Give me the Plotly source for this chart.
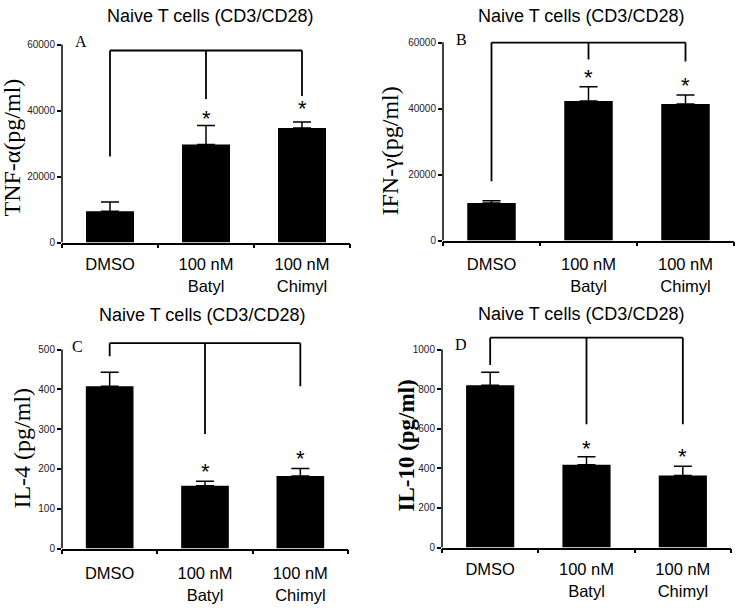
import plotly.graph_objects as go

W, H = 737, 608

categories = ["DMSO", "100 nM<br>Batyl", "100 nM<br>Chimyl"]
panel_title = "Naive T cells (CD3/CD28)"

# Panel A: TNF-alpha
tnf_mean = [9500, 29700, 34700]
tnf_err = [2800, 5800, 1800]
tnf_bracket_top = 58200
tnf_bracket_legs = [26100, 43500, 44400]
tnf_star = [None, 39300, 42500]

# Panel B: IFN-gamma
ifn_mean = [11400, 42300, 41400]
ifn_err = [700, 4300, 2700]
ifn_bracket_top = 60000
ifn_bracket_legs = [18000, 54900, 54300]
ifn_star = [None, 51300, 48900]

# Panel C: IL-4
il4_mean = [408, 158, 182]
il4_err = [35, 11, 19]
il4_bracket_top = 516
il4_bracket_legs = [483, 288, 408]
il4_star = [None, 209, 241]

# Panel D: IL-10
il10_mean = [819, 418, 364]
il10_err = [66, 40, 47]
il10_bracket_top = 1060
il10_bracket_legs = [922, 623, 623]
il10_star = [None, 531, 489]

y_titles = ["TNF-α(pg/ml)", "IFN-γ(pg/ml)", "IL-4 (pg/ml)", "<b>IL-10 (pg/ml)</b>"]
letters = ["A", "B", "C", "D"]
y_tops = [60000, 60000, 500, 1000]
y_dticks = [20000, 20000, 100, 200]

# layout geometry in pixels: (left, right, bottom(y=0), top(y=ymax))
geom = [(62, 350, 245, 45), (443, 734, 243, 43), (62, 348, 554, 353), (442, 731, 553, 353)]
title_pos = [(210, 16), (581, 16), (202, 318), (581, 317)]
ytitle_pos = [(12, 149), (390, 153), (22, 453), (407, 450)]
letter_pos = [(81, 42), (461, 40), (77, 350), (461, 348)]
xlabel_standoff = [6, 8, 9, 6]

panels = [
    (tnf_mean, tnf_err, tnf_bracket_top, tnf_bracket_legs, tnf_star),
    (ifn_mean, ifn_err, ifn_bracket_top, ifn_bracket_legs, ifn_star),
    (il4_mean, il4_err, il4_bracket_top, il4_bracket_legs, il4_star),
    (il10_mean, il10_err, il10_bracket_top, il10_bracket_legs, il10_star),
]

def px(x):
    return x / W

def py(y):
    return 1 - y / H

EXT = 1.1
fig = go.Figure()
shapes = []
annotations = []
layout = {}
for i, (mean, err, btop, blegs, stars) in enumerate(panels):
    n = i + 1
    xa = "x" if n == 1 else f"x{n}"
    ya = "y" if n == 1 else f"y{n}"
    xl, xr, yb, yt = geom[i]
    top_px = yb - (yb - yt) * EXT
    fig.add_trace(go.Bar(
        x=categories, y=mean, width=0.5,
        marker=dict(color="black", line=dict(width=0)),
        error_y=dict(type="data", symmetric=False, array=err, arrayminus=[0] * len(err),
                     color="black", thickness=1.5, width=9),
        xaxis=xa, yaxis=ya, showlegend=False, hoverinfo="skip",
    ))
    layout["xaxis" if n == 1 else f"xaxis{n}"] = dict(
        domain=[px(xl), px(xr)], anchor=ya, type="category", range=[-0.5, 2.5],
        showline=True, linecolor="black", linewidth=1.5, ticks="outside", tickson="boundaries",
        ticklen=4, tickwidth=1.5, tickcolor="black", showgrid=False, zeroline=False,
        ticklabelstandoff=xlabel_standoff[i],
        tickfont=dict(family="Liberation Sans, Arial", size=16.5, color="black"),
    )
    layout["yaxis" if n == 1 else f"yaxis{n}"] = dict(
        domain=[py(yb), py(top_px)], anchor=xa, range=[0, y_tops[i] * EXT],
        tickvals=list(range(0, y_tops[i] + 1, y_dticks[i])), tickformat="d",
        showline=False, showgrid=False, zeroline=False, ticks="outside", ticklen=4,
        tickwidth=1.5, tickcolor="black",
        tickfont=dict(family="Liberation Sans, Arial", size=10, color="#222"),
    )
    # y axis line up to top tick
    shapes.append(dict(type="line", xref=f"{xa} domain", yref=ya, x0=0, x1=0, y0=0, y1=y_tops[i],
                       line=dict(color="black", width=1.5)))
    # bracket
    line = dict(color="black", width=1.8)
    shapes.append(dict(type="line", xref=xa, yref=ya, x0=0, x1=len(categories) - 1,
                       y0=btop, y1=btop, line=line))
    for k, leg in enumerate(blegs):
        shapes.append(dict(type="line", xref=xa, yref=ya, x0=k, x1=k, y0=leg, y1=btop, line=line))
    for k, s in enumerate(stars):
        if s is not None:
            annotations.append(dict(x=k, y=s, xref=xa, yref=ya, text="*", showarrow=False,
                                    yanchor="middle", yshift=-6,
                                    font=dict(family="Liberation Sans, Arial", size=22, color="black")))
    tx, ty = title_pos[i]
    annotations.append(dict(x=px(tx), y=py(ty), xref="paper", yref="paper", text=panel_title,
                            showarrow=False, xanchor="center", yanchor="middle",
                            font=dict(family="Liberation Sans, Arial", size=18, color="black")))
    ax_, ay_ = ytitle_pos[i]
    annotations.append(dict(x=px(ax_), y=py(ay_), xref="paper", yref="paper", text=y_titles[i],
                            showarrow=False, xanchor="center", yanchor="middle", textangle=-90,
                            font=dict(family="Liberation Serif, Times New Roman", size=24 if i < 3 else 23,
                                      color="black")))
    lx, ly = letter_pos[i]
    annotations.append(dict(x=px(lx), y=py(ly), xref="paper", yref="paper", text=letters[i],
                            showarrow=False, xanchor="center", yanchor="middle",
                            font=dict(family="Liberation Serif, Times New Roman", size=16, color="black")))

fig.update_layout(
    width=W, height=H, margin=dict(l=0, r=0, t=0, b=0),
    paper_bgcolor="white", plot_bgcolor="white",
    shapes=shapes, annotations=annotations, bargap=0.5,
    **layout,
)
fig.write_html("out.html", config={"displayModeBar": False},
               post_script="document.body.style.margin='0';document.body.style.overflow='hidden';")
